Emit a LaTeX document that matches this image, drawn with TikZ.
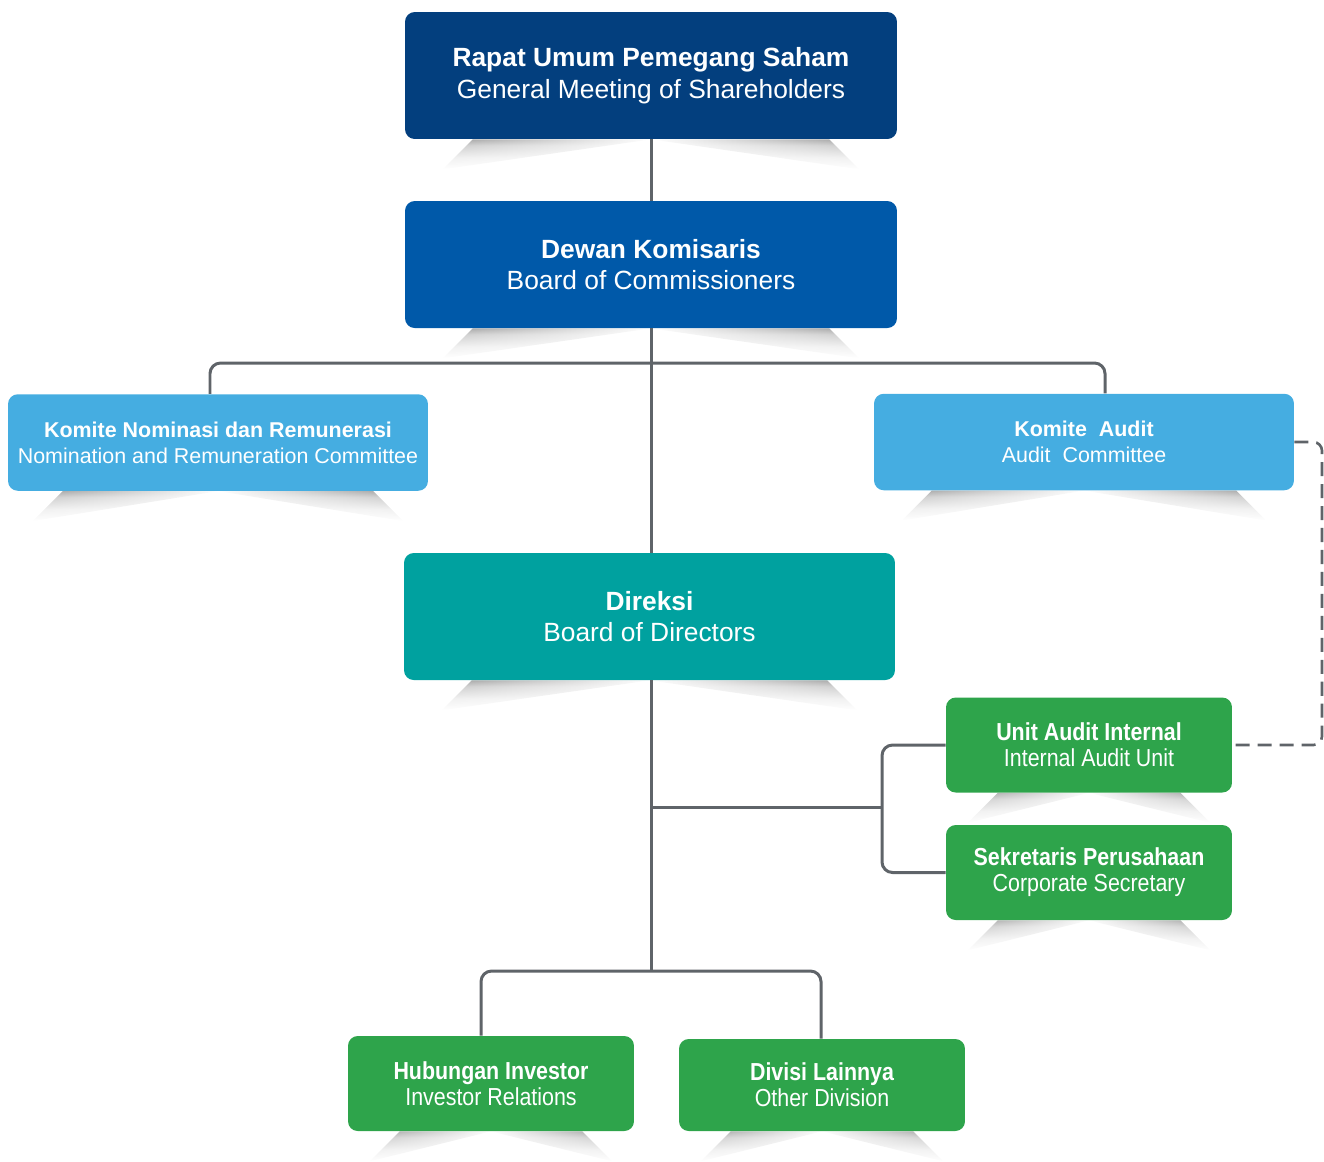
\documentclass[tikz,border=0pt]{standalone}
\usepackage{fontspec}
\setmainfont{Liberation Sans}
\newfontfamily\narrowsans[FakeStretch=0.87]{Liberation Sans}
\usetikzlibrary{calc,fadings}
\definecolor{rupsblue}{HTML}{033F7E}
\definecolor{dkblue}{HTML}{0059A9}
\definecolor{komblue}{HTML}{45ADE1}
\definecolor{dirteal}{HTML}{00A19F}
\definecolor{unitgreen}{HTML}{2EA44B}
\definecolor{linegray}{HTML}{5F6469}
\pgfdeclareverticalshading{wingfall}{100bp}{color(0bp)=(white); color(25bp)=(white); color(45bp)=(black!12); color(65bp)=(black!40); color(75bp)=(black!75); color(100bp)=(black!75)}
\tikzfading[name=wingfadeL, left color=transparent!50, middle color=transparent!0, right color=transparent!100]
\tikzfading[name=wingfadeR, left color=transparent!100, middle color=transparent!0, right color=transparent!50]
\tikzset{
  orgbox/.style={rounded corners=5.5pt, text=white, align=center, inner sep=0pt},
  bigbox/.style={orgbox, minimum width=9.84cm, minimum height=2.54cm, font=\fontsize{15}{18}\selectfont},
  combox/.style={orgbox, fill=komblue, minimum width=8.4cm, minimum height=1.93cm, font=\fontsize{12.2}{14.7}\selectfont},
  unitbox/.style={orgbox, fill=unitgreen, minimum width=5.72cm, minimum height=1.9cm, font=\narrowsans\fontsize{14}{14.7}\selectfont},
  conn/.style={line width=1.7pt, draw=linegray, rounded corners=6pt},
  auditlink/.style={line width=1.5pt, draw=linegray, dash pattern=on 8pt off 4.5pt, rounded corners=5pt},
  wingshade/.style={shading=wingfall},
}
% curled-paper shadow under a box
\newcommand{\wingshadow}[2]{%
  \shade[wingshade, path fading=wingfadeL] ($(#1.south west)+(#2+30,0)$) -- (#1.south) -- ($(#1.south west)+(#2,30)$) -- cycle;
  \shade[wingshade, path fading=wingfadeR] ($(#1.south east)+(-#2-30,0)$) -- (#1.south) -- ($(#1.south east)+(-#2,30)$) -- cycle;}

\begin{document}
\begin{tikzpicture}[x=0.02cm, y=-0.02cm]
  \useasboundingbox (0,0) rectangle (1324,1161);
  % Organe
  \node[bigbox, fill=rupsblue] (rups) at (651,75.5) {{\bfseries Rapat Umum Pemegang Saham}\\General Meeting of Shareholders};
  \node[bigbox, fill=dkblue] (dk) at (651,264.5) {{\bfseries Dewan Komisaris}\\Board of Commissioners};
  \node[combox] (knr) at (218,442.5) {{\bfseries Komite Nominasi dan Remunerasi}\\Nomination and Remuneration Committee};
  \node[combox] (ka) at (1084,442) {{\bfseries Komite\ \ Audit}\\Audit\ \ Committee};
  \node[bigbox, fill=dirteal, minimum width=9.82cm] (dir) at (649.5,616.5) {{\bfseries Direksi}\\Board of Directors};
  \node[unitbox] (uai) at (1089,745) {{\bfseries Unit Audit Internal}\\Internal Audit Unit};
  \node[unitbox] (sp) at (1089,872.5) {{\bfseries Sekretaris Perusahaan}\\Corporate Secretary};
  \node[unitbox] (hi) at (491,1083.5) {{\bfseries Hubungan Investor}\\Investor Relations};
  \node[unitbox, minimum height=1.84cm] (dl) at (822,1085) {{\bfseries Divisi Lainnya}\\Other Division};

  % Schatten
  \wingshadow{rups}{38}
  \wingshadow{dk}{38}
  \wingshadow{dir}{38}
  \wingshadow{knr}{25}
  \wingshadow{ka}{28}
  \wingshadow{uai}{22}
  \wingshadow{sp}{22}
  \wingshadow{hi}{22}
  \wingshadow{dl}{22}

  % Verbindungen
  \coordinate (combar) at (651,363);
  \coordinate (unitjoin) at (651,807);
  \coordinate (unitbar) at (882,807);
  \coordinate (divbar) at (651,971);
  \coordinate (auditrail) at (1322,600);
  \draw[conn] (rups) -- (dk);
  \draw[conn] (dk.south) -- (dk.south |- dir.north);
  \draw[conn] (knr.north -| 210,0) |- (combar) -| (ka.north -| 1105,0);
  \draw[conn] (dir.south -| divbar) -- (divbar);
  \draw[conn] (uai.west) -| (unitbar) |- (sp.west);
  \draw[conn] (unitjoin) -- (unitbar);
  \draw[conn] (hi.north -| 481,0) |- (divbar) -| (dl.north -| 821,0);
  \draw[auditlink] (ka.east) -| (auditrail) |- (uai.east);
\end{tikzpicture}
\end{document}
